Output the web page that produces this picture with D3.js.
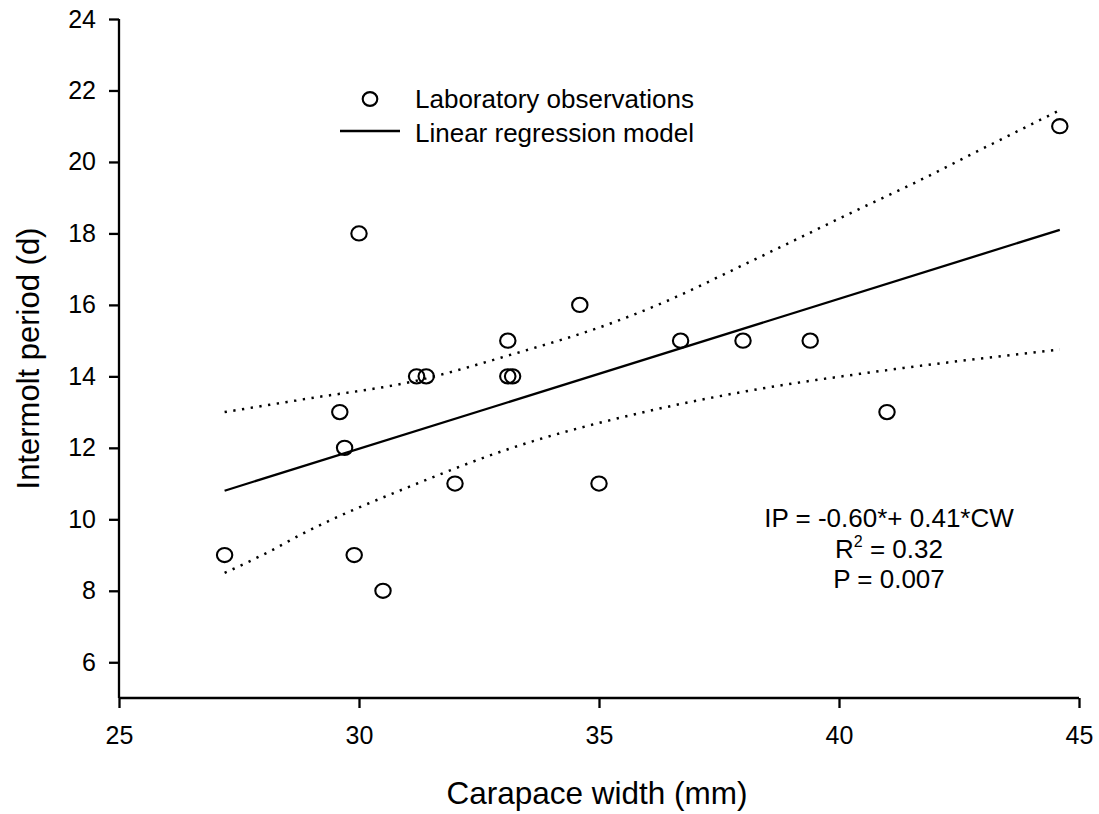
<!DOCTYPE html>
<html>
<head>
<meta charset="utf-8">
<script src="https://cdn.jsdelivr.net/npm/d3@7"></script>
<style>
  html, body { margin: 0; padding: 0; background: #fff; }
  svg { display: block; }
  text { font-family: Arial, "Liberation Sans", Helvetica, sans-serif; fill: #000; }
</style>
</head>
<body>
<svg id="chart" width="1099" height="814"></svg>
<script>
// ---- Data ----
const carapaceWidth = [27.2, 29.6, 29.7, 29.9, 30.0, 30.5, 31.2, 31.4, 32.0, 33.1, 33.1, 33.2, 34.6, 35.0, 36.7, 38.0, 39.4, 41.0, 44.6];
const intermolt     = [9,    13,   12,   9,    18,   8,    14,   14,   11,   15,   14,   14,   16,   11,   15,   15,   15,   13,   21];

const regressionX = [27.2, 44.6];
const regressionY = [10.8, 18.1];

const upperCIX = [27.2, 28.8, 31.2, 33.1, 35.3, 36.1, 38.35, 40.65, 41.4, 42.9, 44.6];
const upperCIY = [13.0, 13.35, 13.88, 14.58, 15.51, 15.93, 17.34, 18.83, 19.3, 20.31, 21.45];

const lowerCIX = [27.2, 28.15, 28.8, 31.1, 33.1, 36.1, 38.35, 40.65, 44.6];
const lowerCIY = [8.5, 9.11, 9.58, 10.94, 11.96, 13.05, 13.65, 14.11, 14.75];

const xTicks = [25, 30, 35, 40, 45];
const yTicks = [6, 8, 10, 12, 14, 16, 18, 20, 22, 24];

const xTitle = "Carapace width (mm)";
const yTitle = "Intermolt period (d)";
const legendLabels = ["Laboratory observations", "Linear regression model"];
const equationLines = ["IP = -0.60*+ 0.41*CW", "R", "P = 0.007"];

// ---- Drawing ----
const svg = d3.select("#chart");
const x = d3.scaleLinear().domain([25, 45]).range([119, 1079]);
const y = d3.scaleLinear().domain([5, 24]).range([698, 19]);

const xAxis = svg.append("g")
  .attr("transform", `translate(0,${y(5)})`)
  .call(d3.axisBottom(x).tickValues(xTicks).tickSize(10).tickSizeOuter(0).tickPadding(18));
const yAxis = svg.append("g")
  .attr("transform", `translate(${x(25)},0)`)
  .call(d3.axisLeft(y).tickValues(yTicks).tickSize(10).tickSizeOuter(0).tickPadding(13));

[xAxis, yAxis].forEach(g => {
  g.select(".domain").attr("stroke", "#000").attr("stroke-width", 2.3);
  g.selectAll(".tick line").attr("stroke", "#000").attr("stroke-width", 2.3);
  g.selectAll(".tick text").attr("font-size", 25).attr("fill", "#000")
    .attr("font-family", "Arial, 'Liberation Sans', sans-serif");
});
yAxis.select(".domain").attr("d", `M0,${y(24)}V${y(5)}`);
xAxis.select(".domain").attr("d", `M${x(25)},0H${x(45)}`);

// confidence bands (dotted)
const lineGen = d3.line().curve(d3.curveMonotoneX).x(d => x(d[0])).y(d => y(d[1]));
[[upperCIX, upperCIY], [lowerCIX, lowerCIY]].forEach(([xs, ys]) => {
  svg.append("path")
    .datum(xs.map((v, i) => [v, ys[i]]))
    .attr("d", lineGen)
    .attr("fill", "none")
    .attr("stroke", "#000")
    .attr("stroke-width", 2.5)
    .attr("stroke-dasharray", "2.3 6.5");
});

// regression line
svg.append("path")
  .datum(regressionX.map((v, i) => [v, regressionY[i]]))
  .attr("d", d3.line().x(d => x(d[0])).y(d => y(d[1])))
  .attr("fill", "none")
  .attr("stroke", "#000")
  .attr("stroke-width", 2.3);

// observations
svg.append("g").selectAll("ellipse")
  .data(carapaceWidth.map((v, i) => [v, intermolt[i]]))
  .join("ellipse")
  .attr("cx", d => x(d[0]))
  .attr("cy", d => y(d[1]))
  .attr("rx", 7.7)
  .attr("ry", 7.1)
  .attr("fill", "none")
  .attr("stroke", "#000")
  .attr("stroke-width", 2.1);

// legend
const legend = svg.append("g");
legend.append("ellipse").attr("cx", 370).attr("cy", 99).attr("rx", 7.3).attr("ry", 6.9)
  .attr("fill", "none").attr("stroke", "#000").attr("stroke-width", 2.1);
legend.append("line").attr("x1", 340).attr("x2", 400).attr("y1", 131).attr("y2", 131)
  .attr("stroke", "#000").attr("stroke-width", 2.3);
legend.append("text").attr("x", 415).attr("y", 108).attr("font-size", 26).text(legendLabels[0]);
legend.append("text").attr("x", 415).attr("y", 142).attr("font-size", 26).text(legendLabels[1]);

// equation text
const eq = svg.append("g").attr("font-size", 26).attr("text-anchor", "middle");
eq.append("text").attr("x", 889).attr("y", 527).text(equationLines[0]);
const r2 = eq.append("text").attr("x", 889).attr("y", 558);
r2.append("tspan").text(equationLines[1]);
r2.append("tspan").attr("font-size", 16).attr("dy", -11).text("2");
r2.append("tspan").attr("dy", 11).text(" = 0.32");
eq.append("text").attr("x", 889).attr("y", 588).text(equationLines[2]);

// axis titles
svg.append("text").attr("x", 597).attr("y", 804).attr("text-anchor", "middle")
  .attr("font-size", 31.5).text(xTitle);
svg.append("text").attr("transform", `translate(39,${(y(24) + y(5)) / 2}) rotate(-90)`)
  .attr("text-anchor", "middle").attr("font-size", 31).text(yTitle);
</script>
</body>
</html>
